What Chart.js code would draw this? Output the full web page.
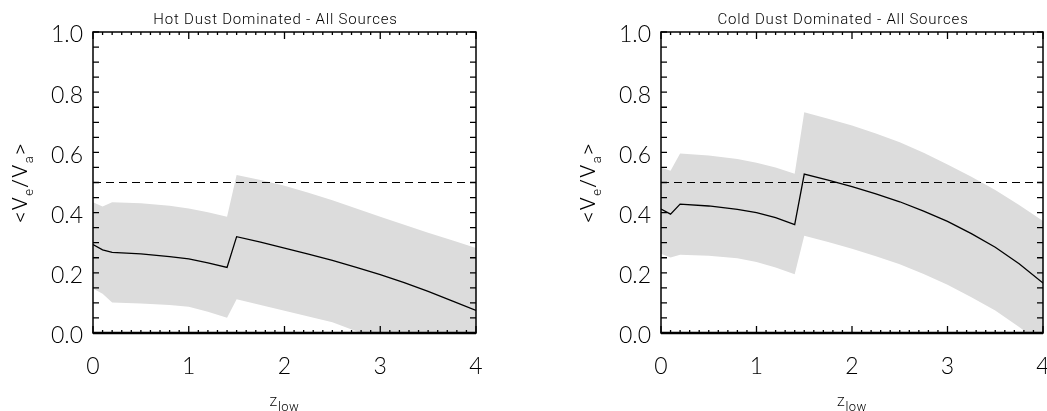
<!DOCTYPE html>
<html>
<head>
<meta charset="utf-8">
<script src="https://cdn.jsdelivr.net/npm/chart.js@4"></script>
<style>
  html, body { margin: 0; padding: 0; background: #fff; overflow: hidden; }
  #wrap { position: relative; width: 1047px; height: 411px; overflow: hidden; }
  canvas { position: absolute; top: 0; }
  #hot { left: 0; }
  #cold { left: 523px; }
</style>
</head>
<body>
<div id="wrap">
  <canvas id="hot" width="523" height="411"></canvas>
  <canvas id="cold" width="560" height="411"></canvas>
</div>
<script>
// lower redshift cut and the mean <Ve/Va> with its 1-sigma envelope
const zLow = [0, 0.1, 0.2, 0.5, 0.8, 1.0, 1.2, 1.4, 1.5, 1.75, 2.0, 2.25, 2.5, 2.75, 3.0, 3.25, 3.5, 3.75, 4.0];

const hotMean  = [0.294, 0.276, 0.268, 0.263, 0.254, 0.246, 0.233, 0.218, 0.320, 0.302, 0.282, 0.262, 0.241, 0.218, 0.194, 0.167, 0.138, 0.107, 0.075];
const hotUpper = [0.434, 0.420, 0.434, 0.431, 0.423, 0.414, 0.401, 0.386, 0.525, 0.508, 0.489, 0.466, 0.441, 0.414, 0.386, 0.360, 0.333, 0.308, 0.282];
const hotLower = [0.148, 0.130, 0.101, 0.098, 0.093, 0.087, 0.071, 0.051, 0.112, 0.093, 0.074, 0.055, 0.036, 0.006, -0.025, -0.055, -0.085, -0.117, -0.150];

const coldMean  = [0.412, 0.395, 0.428, 0.422, 0.411, 0.400, 0.383, 0.360, 0.528, 0.508, 0.486, 0.462, 0.436, 0.405, 0.371, 0.330, 0.285, 0.230, 0.166];
const coldUpper = [0.550, 0.539, 0.596, 0.590, 0.578, 0.566, 0.550, 0.529, 0.733, 0.712, 0.689, 0.663, 0.634, 0.599, 0.560, 0.519, 0.475, 0.425, 0.372];
const coldLower = [0.263, 0.251, 0.260, 0.257, 0.248, 0.236, 0.218, 0.195, 0.323, 0.302, 0.280, 0.255, 0.228, 0.196, 0.160, 0.119, 0.075, 0.020, -0.040];

// expected value for a uniform distribution
const refLevel = 0.5;

const xRange = [0, 4];
const yRange = [0, 1];

const FONT = 'Lato, "Liberation Sans", sans-serif';
const TEXT_FONT = 'Roboto, "Liberation Sans", sans-serif';

const toPoints = (xs, ys) => xs.map((x, i) => ({ x, y: ys[i] }));

// draws a string made of normal and subscript pieces, centred on cx
function drawRich(ctx, parts, cx, baseline, size, subSize, drop) {
  const widths = parts.map(([t, sub]) => {
    ctx.font = "300 " + (sub ? subSize : size) + "px " + TEXT_FONT;
    return ctx.measureText(t).width;
  });
  let x = cx - widths.reduce((a, b) => a + b, 0) / 2;
  ctx.textAlign = "left";
  ctx.textBaseline = "alphabetic";
  parts.forEach(([t, sub], i) => {
    ctx.font = "300 " + (sub ? subSize : size) + "px " + TEXT_FONT;
    ctx.fillText(t, x, baseline + (sub ? drop : 0));
    x += widths[i];
  });
}

// box with inward ticks on all four sides
const idlFrame = {
  id: "idlFrame",
  afterDatasetsDraw(chart) {
    const { ctx, chartArea: a, scales: { x, y } } = chart;
    ctx.save();
    ctx.strokeStyle = "#000";
    ctx.lineWidth = 1.5;
    ctx.strokeRect(a.left, a.top, a.right - a.left, a.bottom - a.top);
    ctx.lineWidth = 2.5;
    ctx.beginPath();
    ctx.moveTo(a.left, a.bottom);
    ctx.lineTo(a.right, a.bottom);
    ctx.stroke();

    ctx.lineWidth = 1.3;
    ctx.beginPath();
    for (let i = 0; i <= 40; i++) {
      const px = x.getPixelForValue(i * 0.1);
      const len = i % 10 === 0 ? 7 : 3;
      ctx.moveTo(px, a.bottom); ctx.lineTo(px, a.bottom - len);
      ctx.moveTo(px, a.top); ctx.lineTo(px, a.top + len);
    }
    for (let j = 0; j <= 20; j++) {
      const py = y.getPixelForValue(j * 0.05);
      ctx.moveTo(a.left, py); ctx.lineTo(a.left + 6, py);
      ctx.moveTo(a.right, py); ctx.lineTo(a.right - 6, py);
    }
    ctx.stroke();
    ctx.restore();
  }
};

// panel title plus axis titles with subscripts
const axisText = {
  id: "axisText",
  afterDraw(chart, args, opts) {
    const { ctx, chartArea: a } = chart;
    const cx = (a.left + a.right) / 2;
    const cy = (a.top + a.bottom) / 2;
    ctx.save();
    ctx.fillStyle = "#000";
    ctx.font = "300 15px " + TEXT_FONT;
    ctx.letterSpacing = "0.8px";
    ctx.textAlign = "center";
    ctx.textBaseline = "alphabetic";
    ctx.fillText(opts.title, cx - 9, 24);

    ctx.letterSpacing = "0.5px";
    drawRich(ctx, [["Z", 0], ["low", 1]], cx, 406, 13, 13, 5);

    ctx.letterSpacing = "1.5px";
    ctx.translate(a.left - 66, cy);
    ctx.rotate(-Math.PI / 2);
    drawRich(ctx, [["<V", 0], ["e", 1], ["/V", 0], ["a", 1], [">", 0]], 0, 0, 21, 13, 6);
    ctx.restore();
  }
};

function makePanel(id, title, mean, upper, lower, yAxisWidth, rightPad) {
  return new Chart(document.getElementById(id), {
    type: "line",
    data: {
      datasets: [
        {
          data: toPoints(zLow, mean),
          borderColor: "#000",
          borderWidth: 1.3,
          pointRadius: 0,
          fill: false
        },
        {
          data: toPoints(xRange, [refLevel, refLevel]),
          borderColor: "#000",
          borderWidth: 1.2,
          borderDash: [8, 5],
          pointRadius: 0,
          fill: false
        },
        {
          data: toPoints(zLow, upper),
          borderWidth: 0,
          borderColor: "rgba(0,0,0,0)",
          backgroundColor: "#dcdcdc",
          pointRadius: 0,
          fill: "+1"
        },
        {
          data: toPoints(zLow, lower),
          borderWidth: 0,
          borderColor: "rgba(0,0,0,0)",
          pointRadius: 0,
          fill: false
        }
      ]
    },
    options: {
      responsive: false,
      animation: false,
      events: [],
      layout: { padding: { top: 32, left: 0, right: rightPad, bottom: 0 } },
      plugins: {
        legend: { display: false },
        tooltip: { enabled: false },
        axisText: { title }
      },
      scales: {
        x: {
          type: "linear",
          min: xRange[0],
          max: xRange[1],
          grid: { display: false, drawTicks: false },
          border: { display: false },
          ticks: {
            stepSize: 1,
            padding: 20,
            color: "#000",
            font: { family: FONT, size: 23, weight: 300 }
          },
          afterFit: (s) => { s.height = 78; }
        },
        y: {
          min: yRange[0],
          max: yRange[1],
          grid: { display: false, drawTicks: false },
          border: { display: false },
          ticks: {
            stepSize: 0.2,
            padding: 10,
            labelOffset: 3,
            color: "#000",
            font: { family: FONT, size: 23, weight: 300 },
            callback: (v) => v.toFixed(1)
          },
          afterFit: (s) => { s.width = yAxisWidth; }
        }
      }
    },
    plugins: [idlFrame, axisText]
  });
}

makePanel("hot", "Hot Dust Dominated - All Sources", hotMean, hotUpper, hotLower, 93, 47);
makePanel("cold", "Cold Dust Dominated - All Sources", coldMean, coldUpper, coldLower, 138, 40);
</script>
</body>
</html>
